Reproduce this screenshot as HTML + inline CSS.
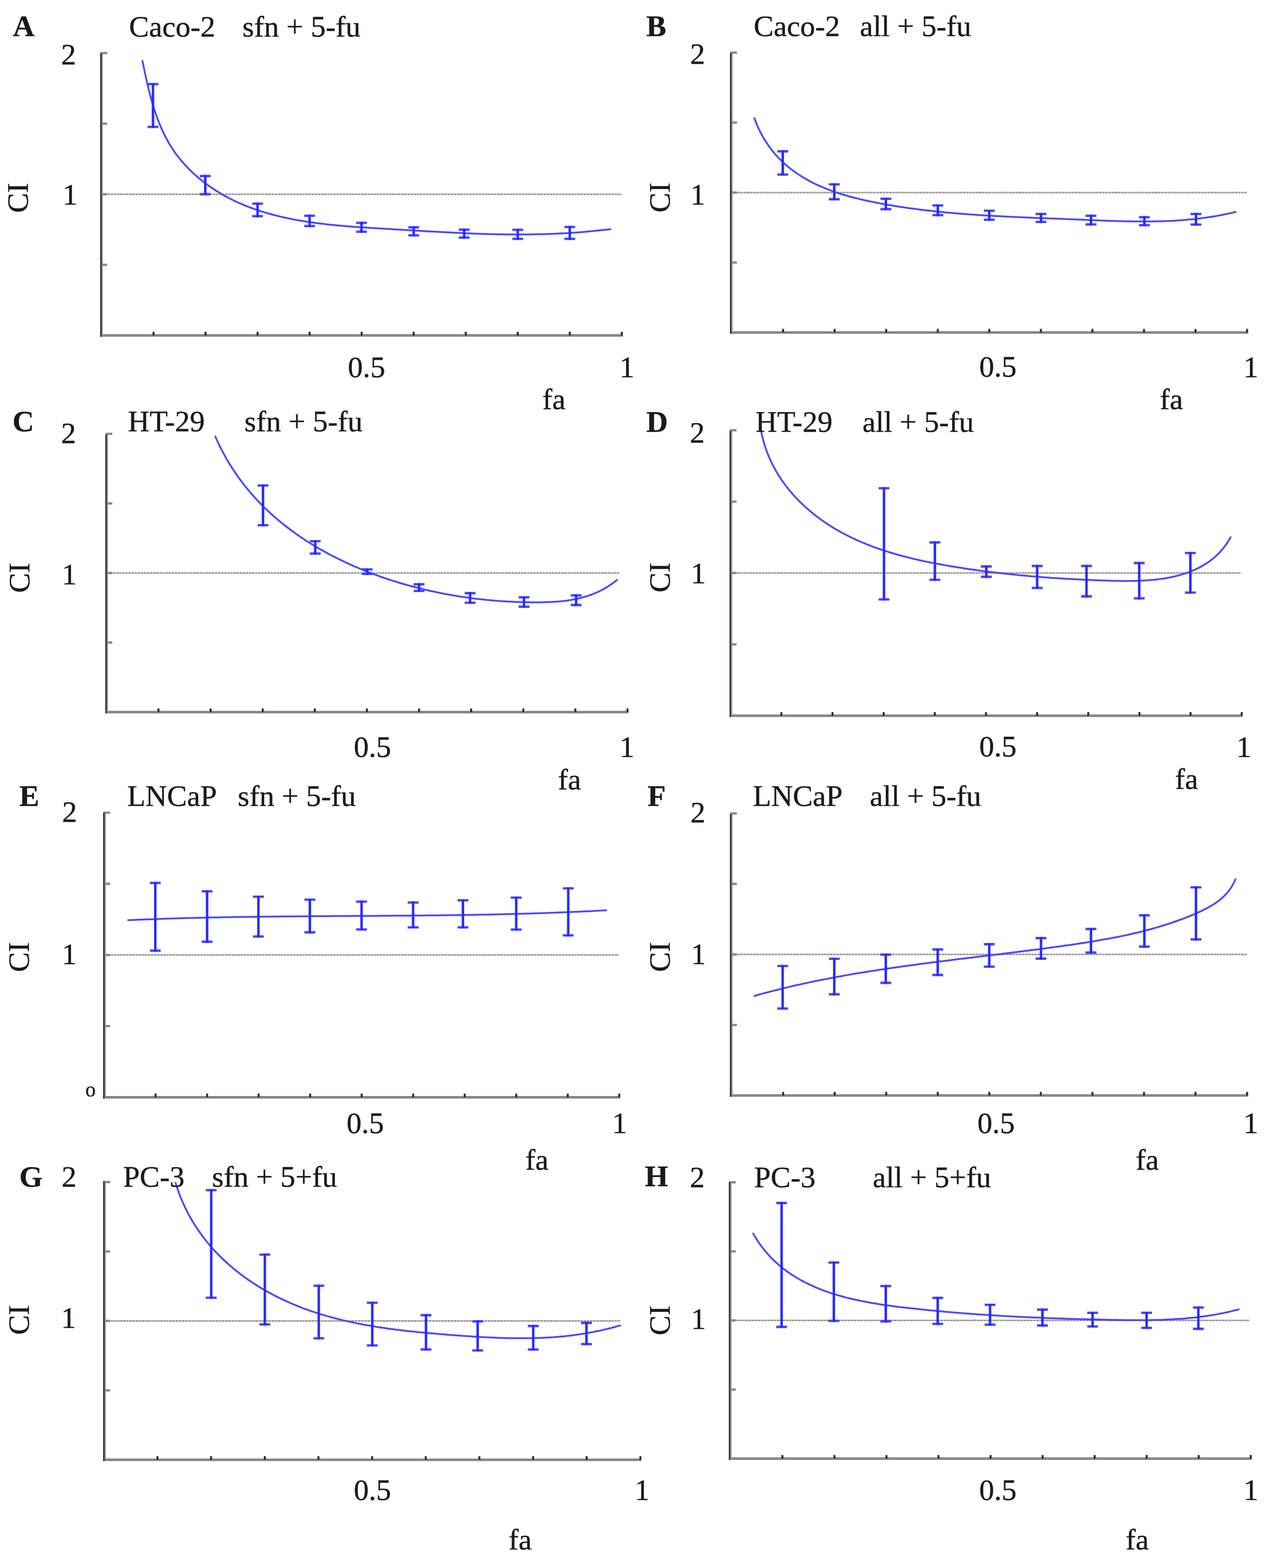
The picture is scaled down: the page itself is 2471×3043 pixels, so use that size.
<!DOCTYPE html>
<html><head><meta charset="utf-8"><title>CI plots</title>
<style>
html,body{margin:0;padding:0;background:#fff;}
svg{display:block;}
.t{font-family:"Liberation Serif","Times New Roman",serif;font-size:58px;fill:#1a1a1a;stroke:#1a1a1a;stroke-width:0.45px;}
.b{font-weight:bold;}
.ya{stroke:#2e2e2e;stroke-width:2.8;}
.ya2{stroke:#929292;stroke-width:2.6;}
.xa{stroke:#868686;stroke-width:5;}
.ytk{stroke:#8a8a8a;stroke-width:4.5;}
.xtk{stroke:#2a2a2a;stroke-width:3.8;}
.dot{stroke:#969696;stroke-width:3;stroke-dasharray:5 1;}
.cv{fill:none;stroke:#4848ff;stroke-width:3.5;stroke-linecap:round;stroke-linejoin:round;}
.eb{fill:none;stroke:#2a2aff;stroke-width:4.8;}
.ebc{fill:none;stroke:#4444ff;stroke-width:4.6;}
</style></head>
<body>
<svg width="2471" height="3043" viewBox="0 0 2471 3043">
<rect width="2471" height="3043" fill="#fff"/>
<g id="pA">
<line class="dot" x1="197" y1="377" x2="1207" y2="377"/>
<line class="ytk" x1="195" y1="103" x2="208" y2="103"/>
<line class="ytk" x1="195" y1="240" x2="208" y2="240"/>
<line class="ytk" x1="195" y1="377" x2="208" y2="377"/>
<line class="ytk" x1="195" y1="514" x2="208" y2="514"/>
<line class="xa" x1="194.5" y1="651" x2="1209" y2="651"/>
<line class="ya2" x1="198.3" y1="103" x2="198.3" y2="653.5"/>
<line class="ya" x1="195.8" y1="103" x2="195.8" y2="653.5"/>
<line class="xtk" x1="298" y1="651" x2="298" y2="644"/>
<line class="xtk" x1="399" y1="651" x2="399" y2="644"/>
<line class="xtk" x1="500" y1="651" x2="500" y2="644"/>
<line class="xtk" x1="601" y1="651" x2="601" y2="644"/>
<line class="xtk" x1="702" y1="651" x2="702" y2="644"/>
<line class="xtk" x1="803" y1="651" x2="803" y2="644"/>
<line class="xtk" x1="904" y1="651" x2="904" y2="644"/>
<line class="xtk" x1="1005" y1="651" x2="1005" y2="644"/>
<line class="xtk" x1="1106" y1="651" x2="1106" y2="644"/>
<line class="xtk" x1="1207" y1="651" x2="1207" y2="644"/>
<path class="cv" d="M276.6,118.3 277.6,122.9 278.5,127.6 279.5,132.3 280.4,137 281.4,141.8 282.4,146.5 283.5,151.3 284.5,156.1 285.6,160.9 286.7,165.7 287.9,170.5 289.1,175.4 290.3,180.2 291.5,185 292.8,189.8 294.2,194.6 295.6,199.4 297,204.2 298.5,209 300,213.8 301.6,218.5 303.2,223.2 304.9,227.9 306.6,232.6 308.4,237.2 310.3,241.9 312.2,246.4 314.2,251 316.3,255.5 318.4,259.9 320.6,264.4 322.9,268.7 325.3,273.1 327.7,277.3 330.2,281.6 332.8,285.7 335.5,289.8 338.2,293.9 341,297.9 344,301.8 346.9,305.7 350,309.5 353.1,313.2 356.3,316.9 359.6,320.5 363,324.1 366.4,327.6 369.8,331 373.4,334.4 376.9,337.7 380.6,341 384.3,344.2 388,347.3 391.8,350.4 395.7,353.4 399.6,356.4 403.5,359.3 407.5,362.1 411.5,364.8 415.6,367.5 419.7,370.2 423.8,372.8 428,375.3 432.1,377.7 436.4,380.1 440.6,382.4 444.9,384.7 449.2,386.8 453.5,389 457.9,391.1 462.3,393.1 466.7,395 471.1,396.9 475.6,398.8 480.1,400.6 484.6,402.3 489.1,404 493.7,405.7 498.3,407.2 502.8,408.8 507.5,410.3 512.1,411.7 516.8,413.1 521.4,414.5 526.1,415.8 530.8,417 535.6,418.3 540.3,419.4 545.1,420.6 549.9,421.7 554.7,422.7 559.5,423.8 564.3,424.7 569.1,425.7 574,426.6 578.9,427.5 583.7,428.3 588.6,429.1 593.5,429.9 598.4,430.7 603.3,431.4 608.3,432.1 613.2,432.8 618.2,433.4 623.1,434 628.1,434.6 633,435.2 638,435.7 643,436.3 648,436.8 653,437.3 658,437.7 663,438.2 668,438.6 673,439 678,439.4 683,439.8 688,440.2 693,440.5 698,440.9 703,441.2 708,441.6 713,441.9 718,442.2 723,442.5 728,442.8 733,443.1 738,443.4 743,443.7 748,444 752.9,444.3 757.9,444.6 762.9,444.9 767.8,445.2 772.8,445.5 777.7,445.8 782.6,446.1 787.6,446.4 792.5,446.7 797.4,446.9 802.3,447.2 807.2,447.5 812.1,447.8 817,448.1 821.9,448.4 826.8,448.7 831.7,449 836.5,449.2 841.4,449.5 846.3,449.8 851.1,450.1 856,450.3 860.9,450.6 865.7,450.8 870.6,451.1 875.4,451.3 880.3,451.6 885.1,451.8 890,452 894.8,452.3 899.7,452.5 904.5,452.7 909.3,452.9 914.2,453.1 919,453.3 923.9,453.5 928.7,453.6 933.5,453.8 938.4,453.9 943.2,454.1 948,454.2 952.9,454.4 957.7,454.5 962.6,454.6 967.4,454.7 972.3,454.8 977.1,454.8 981.9,454.9 986.8,455 991.7,455 996.5,455 1001.4,455.1 1006.2,455.1 1011.1,455.1 1016,455 1020.8,455 1025.7,455 1030.6,454.9 1035.5,454.8 1040.4,454.7 1045.2,454.6 1050.1,454.5 1055,454.4 1060,454.2 1064.9,454.1 1069.8,453.9 1074.7,453.7 1079.6,453.5 1084.6,453.3 1089.5,453 1094.5,452.7 1099.4,452.5 1104.4,452.2 1109.3,451.8 1114.3,451.5 1119.3,451.2 1124.3,450.8 1129.3,450.4 1134.3,450 1139.3,449.5 1144.3,449.1 1149.4,448.6 1154.4,448.1 1159.5,447.6 1164.5,447.1 1169.6,446.5 1174.7,446 1179.8,445.4 1184.9,444.7"/>
<path class="ebc" d="M286.5,163.3h21M286.5,246.2h21"/>
<path class="eb" d="M297,161.3V248.2"/>
<path class="ebc" d="M388,341.6h21M388,376.9h21"/>
<path class="eb" d="M398.5,339.6V378.9"/>
<path class="ebc" d="M489.5,395.3h21M489.5,419.5h21"/>
<path class="eb" d="M500,393.3V421.5"/>
<path class="ebc" d="M590.5,418.7h21M590.5,438.8h21"/>
<path class="eb" d="M601,416.7V440.8"/>
<path class="ebc" d="M691.2,432.5h21M691.2,449.8h21"/>
<path class="eb" d="M701.7,430.5V451.8"/>
<path class="ebc" d="M792.6,441.1h21M792.6,456.7h21"/>
<path class="eb" d="M803.1,439.1V458.7"/>
<path class="ebc" d="M890.5,445.7h21M890.5,461.1h21"/>
<path class="eb" d="M901,443.7V463.1"/>
<path class="ebc" d="M994.5,446h21M994.5,463.5h21"/>
<path class="eb" d="M1005,444V465.5"/>
<path class="ebc" d="M1095.5,440.5h21M1095.5,463.5h21"/>
<path class="eb" d="M1106,438.5V465.5"/>
<text class="t b" x="25.1" y="70">A</text>
<text class="t" x="250.6" y="70.5">Caco-2</text>
<text class="t" x="470.6" y="70.5">sfn + 5-fu</text>
<text class="t" x="118.5" y="124.5">2</text>
<text class="t" x="121.6" y="396.8">1</text>
<text class="t" x="675.3" y="732">0.5</text>
<text class="t" x="1202.4" y="732.3">1</text>
<text class="t" x="1052.7" y="793.5">fa</text>
<text class="t" transform="translate(54,413) rotate(-90)">CI</text>
</g>
<g id="pB">
<line class="dot" x1="1419.5" y1="373.7" x2="2420" y2="373.7"/>
<line class="ytk" x1="1417.5" y1="102.1" x2="1430.5" y2="102.1"/>
<line class="ytk" x1="1417.5" y1="237.9" x2="1430.5" y2="237.9"/>
<line class="ytk" x1="1417.5" y1="373.7" x2="1430.5" y2="373.7"/>
<line class="ytk" x1="1417.5" y1="509.5" x2="1430.5" y2="509.5"/>
<line class="xa" x1="1417" y1="645.3" x2="2422.8" y2="645.3"/>
<line class="ya2" x1="1420.8" y1="102.8" x2="1420.8" y2="647.8"/>
<line class="ya" x1="1418.3" y1="102.8" x2="1418.3" y2="647.8"/>
<line class="xtk" x1="1520.1" y1="645.3" x2="1520.1" y2="638.3"/>
<line class="xtk" x1="1620.1" y1="645.3" x2="1620.1" y2="638.3"/>
<line class="xtk" x1="1720.2" y1="645.3" x2="1720.2" y2="638.3"/>
<line class="xtk" x1="1820.3" y1="645.3" x2="1820.3" y2="638.3"/>
<line class="xtk" x1="1920.3" y1="645.3" x2="1920.3" y2="638.3"/>
<line class="xtk" x1="2020.4" y1="645.3" x2="2020.4" y2="638.3"/>
<line class="xtk" x1="2120.5" y1="645.3" x2="2120.5" y2="638.3"/>
<line class="xtk" x1="2220.6" y1="645.3" x2="2220.6" y2="638.3"/>
<line class="xtk" x1="2320.6" y1="645.3" x2="2320.6" y2="638.3"/>
<line class="xtk" x1="2420.7" y1="645.3" x2="2420.7" y2="638.3"/>
<path class="cv" d="M1464.2,229.3 1466.1,234.2 1468,239 1469.9,243.7 1472,248.2 1474.1,252.7 1476.3,257.1 1478.6,261.4 1480.9,265.6 1483.4,269.8 1485.8,273.8 1488.4,277.7 1491,281.6 1493.7,285.4 1496.4,289.1 1499.3,292.7 1502.1,296.2 1505.1,299.6 1508.1,303 1511.1,306.3 1514.2,309.5 1517.4,312.6 1520.6,315.6 1523.9,318.6 1527.2,321.5 1530.6,324.4 1534.1,327.1 1537.6,329.8 1541.1,332.4 1544.7,335 1548.3,337.5 1552,339.9 1555.7,342.3 1559.5,344.6 1563.3,346.8 1567.1,349 1571,351.1 1574.9,353.2 1578.9,355.2 1582.9,357.2 1586.9,359.1 1591,360.9 1595.1,362.7 1599.2,364.4 1603.4,366.1 1607.6,367.8 1611.8,369.4 1616.1,370.9 1620.3,372.4 1624.6,373.9 1629,375.3 1633.3,376.7 1637.7,378 1642.1,379.3 1646.5,380.6 1650.9,381.8 1655.4,383 1659.8,384.2 1664.3,385.3 1668.8,386.4 1673.3,387.5 1677.8,388.5 1682.3,389.5 1686.9,390.5 1691.4,391.4 1696,392.3 1700.5,393.2 1705.1,394.1 1709.6,395 1714.2,395.8 1718.8,396.6 1723.3,397.4 1727.9,398.2 1732.5,399 1737,399.7 1741.6,400.5 1746.2,401.2 1750.8,401.9 1755.3,402.6 1759.9,403.2 1764.5,403.9 1769,404.5 1773.6,405.1 1778.2,405.7 1782.8,406.3 1787.3,406.9 1791.9,407.5 1796.5,408 1801.1,408.6 1805.6,409.1 1810.2,409.6 1814.8,410.1 1819.3,410.6 1823.9,411 1828.5,411.5 1833.1,411.9 1837.6,412.4 1842.2,412.8 1846.8,413.2 1851.4,413.6 1855.9,414 1860.5,414.4 1865.1,414.8 1869.7,415.1 1874.2,415.5 1878.8,415.8 1883.4,416.2 1888,416.5 1892.5,416.8 1897.1,417.1 1901.7,417.4 1906.3,417.7 1910.8,418 1915.4,418.3 1920,418.5 1924.6,418.8 1929.1,419.1 1933.7,419.3 1938.3,419.5 1942.9,419.8 1947.4,420 1952,420.3 1956.6,420.5 1961.2,420.7 1965.7,420.9 1970.3,421.1 1974.9,421.3 1979.5,421.5 1984,421.7 1988.6,421.9 1993.2,422.1 1997.8,422.3 2002.3,422.5 2006.9,422.7 2011.5,422.9 2016.1,423 2020.6,423.2 2025.2,423.4 2029.8,423.6 2034.4,423.8 2038.9,423.9 2043.5,424.1 2048.1,424.3 2052.6,424.5 2057.2,424.6 2061.8,424.8 2066.4,425 2070.9,425.2 2075.5,425.4 2080.1,425.5 2084.6,425.7 2089.2,425.9 2093.8,426.1 2098.3,426.3 2102.9,426.5 2107.5,426.7 2112,426.9 2116.6,427.1 2121.2,427.3 2125.8,427.5 2130.3,427.6 2134.9,427.8 2139.4,428 2144,428.2 2148.6,428.4 2153.1,428.5 2157.7,428.7 2162.3,428.8 2166.8,429 2171.4,429.1 2176,429.2 2180.5,429.3 2185.1,429.4 2189.6,429.5 2194.2,429.6 2198.8,429.7 2203.3,429.7 2207.9,429.8 2212.4,429.8 2217,429.8 2221.5,429.8 2226.1,429.8 2230.6,429.8 2235.2,429.7 2239.7,429.7 2244.3,429.6 2248.8,429.5 2253.4,429.4 2257.9,429.2 2262.5,429 2267,428.9 2271.6,428.7 2276.1,428.4 2280.7,428.2 2285.2,427.9 2289.8,427.6 2294.3,427.3 2298.8,426.9 2303.4,426.5 2307.9,426.1 2312.5,425.7 2317,425.2 2321.5,424.7 2326.1,424.2 2330.6,423.7 2335.1,423.1 2339.7,422.5 2344.2,421.8 2348.7,421.1 2353.2,420.4 2357.8,419.7 2362.3,418.9 2366.8,418.1 2371.3,417.2 2375.9,416.3 2380.4,415.4 2384.9,414.5 2389.4,413.5 2393.9,412.4 2398.4,411.3"/>
<path class="ebc" d="M1508.9,293.6h21M1508.9,338.8h21"/>
<path class="eb" d="M1519.4,291.6V340.8"/>
<path class="ebc" d="M1608.9,357.8h21M1608.9,386.6h21"/>
<path class="eb" d="M1619.4,355.8V388.6"/>
<path class="ebc" d="M1709.1,385.8h21M1709.1,405.9h21"/>
<path class="eb" d="M1719.6,383.8V407.9"/>
<path class="ebc" d="M1809.9,398.7h21M1809.9,417.5h21"/>
<path class="eb" d="M1820.4,396.7V419.5"/>
<path class="ebc" d="M1909.7,409h21M1909.7,426.5h21"/>
<path class="eb" d="M1920.2,407V428.5"/>
<path class="ebc" d="M2010.2,415.3h21M2010.2,430.8h21"/>
<path class="eb" d="M2020.7,413.3V432.8"/>
<path class="ebc" d="M2107.2,418.7h21M2107.2,435.5h21"/>
<path class="eb" d="M2117.7,416.7V437.5"/>
<path class="ebc" d="M2210.8,421.5h21M2210.8,437h21"/>
<path class="eb" d="M2221.3,419.5V439"/>
<path class="ebc" d="M2311,415.3h21M2311,435.8h21"/>
<path class="eb" d="M2321.5,413.3V437.8"/>
<text class="t b" x="1254.6" y="69.5">B</text>
<text class="t" x="1463.1" y="69.5">Caco-2</text>
<text class="t" x="1669" y="69.5">all + 5-fu</text>
<text class="t" x="1339.5" y="124.3">2</text>
<text class="t" x="1339.9" y="397">1</text>
<text class="t" x="1900.8" y="731">0.5</text>
<text class="t" x="2413.4" y="732">1</text>
<text class="t" x="2251.2" y="793.5">fa</text>
<text class="t" transform="translate(1300,412.4) rotate(-90)">CI</text>
</g>
<g id="pC">
<line class="dot" x1="207" y1="1112" x2="1202.6" y2="1112"/>
<line class="ytk" x1="205" y1="842" x2="218" y2="842"/>
<line class="ytk" x1="205" y1="977" x2="218" y2="977"/>
<line class="ytk" x1="205" y1="1112" x2="218" y2="1112"/>
<line class="ytk" x1="205" y1="1247" x2="218" y2="1247"/>
<line class="xa" x1="204.5" y1="1382" x2="1220" y2="1382"/>
<line class="ya2" x1="208.3" y1="843" x2="208.3" y2="1384.5"/>
<line class="ya" x1="205.8" y1="843" x2="205.8" y2="1384.5"/>
<line class="xtk" x1="307.6" y1="1382" x2="307.6" y2="1375"/>
<line class="xtk" x1="408.8" y1="1382" x2="408.8" y2="1375"/>
<line class="xtk" x1="509.9" y1="1382" x2="509.9" y2="1375"/>
<line class="xtk" x1="611.1" y1="1382" x2="611.1" y2="1375"/>
<line class="xtk" x1="712.2" y1="1382" x2="712.2" y2="1375"/>
<line class="xtk" x1="813.4" y1="1382" x2="813.4" y2="1375"/>
<line class="xtk" x1="914.5" y1="1382" x2="914.5" y2="1375"/>
<line class="xtk" x1="1015.7" y1="1382" x2="1015.7" y2="1375"/>
<line class="xtk" x1="1116.8" y1="1382" x2="1116.8" y2="1375"/>
<line class="xtk" x1="1218" y1="1382" x2="1218" y2="1375"/>
<path class="cv" d="M418,847.1 419.7,851.1 421.5,855.1 423.3,859 425.2,862.9 427.1,866.8 429,870.7 431,874.5 433,878.3 435,882 437.1,885.8 439.2,889.5 441.3,893.1 443.4,896.8 445.6,900.4 447.9,904 450.1,907.5 452.4,911.1 454.7,914.6 457,918 459.4,921.5 461.8,924.9 464.2,928.3 466.7,931.6 469.2,934.9 471.7,938.2 474.2,941.5 476.8,944.7 479.4,948 482.1,951.1 484.7,954.3 487.4,957.4 490.1,960.5 492.8,963.6 495.6,966.7 498.4,969.7 501.2,972.7 504,975.6 506.9,978.6 509.8,981.5 512.7,984.4 515.6,987.2 518.6,990.1 521.6,992.9 524.6,995.7 527.6,998.4 530.7,1001.1 533.7,1003.8 536.8,1006.5 539.9,1009.2 543.1,1011.8 546.3,1014.4 549.4,1017 552.6,1019.5 555.9,1022 559.1,1024.5 562.4,1027 565.7,1029.5 569,1031.9 572.3,1034.3 575.6,1036.7 579,1039 582.4,1041.4 585.8,1043.7 589.2,1045.9 592.6,1048.2 596.1,1050.4 599.5,1052.6 603,1054.8 606.5,1057 610,1059.1 613.6,1061.2 617.1,1063.3 620.7,1065.4 624.3,1067.4 627.9,1069.4 631.5,1071.4 635.1,1073.4 638.7,1075.4 642.4,1077.3 646.1,1079.2 649.7,1081.1 653.4,1083 657.1,1084.8 660.8,1086.6 664.6,1088.4 668.3,1090.2 672.1,1092 675.8,1093.7 679.6,1095.4 683.4,1097.1 687.2,1098.8 691,1100.4 694.8,1102 698.6,1103.6 702.5,1105.2 706.3,1106.8 710.2,1108.3 714,1109.9 717.9,1111.4 721.8,1112.8 725.7,1114.3 729.6,1115.7 733.5,1117.2 737.4,1118.6 741.3,1120 745.2,1121.3 749.2,1122.7 753.1,1124 757,1125.3 761,1126.6 765,1127.8 768.9,1129.1 772.9,1130.3 776.9,1131.5 780.9,1132.7 784.9,1133.8 788.9,1135 792.9,1136.1 796.9,1137.2 800.9,1138.3 804.9,1139.3 809,1140.4 813,1141.4 817,1142.4 821.1,1143.4 825.1,1144.4 829.2,1145.3 833.2,1146.3 837.3,1147.2 841.4,1148 845.5,1148.9 849.5,1149.8 853.6,1150.6 857.7,1151.4 861.8,1152.2 865.9,1153 870,1153.7 874.1,1154.5 878.2,1155.2 882.3,1155.9 886.4,1156.6 890.5,1157.2 894.6,1157.9 898.8,1158.5 902.9,1159.1 907,1159.7 911.1,1160.3 915.3,1160.8 919.4,1161.4 923.5,1161.9 927.7,1162.4 931.8,1162.8 935.9,1163.3 940.1,1163.7 944.2,1164.2 948.4,1164.6 952.5,1164.9 956.7,1165.3 960.8,1165.7 965,1166 969.1,1166.3 973.3,1166.6 977.4,1166.9 981.5,1167.1 985.7,1167.4 989.8,1167.6 994,1167.8 998.1,1168 1002.3,1168.2 1006.4,1168.3 1010.6,1168.4 1014.7,1168.6 1018.9,1168.7 1023,1168.7 1027.2,1168.8 1031.3,1168.9 1035.5,1168.9 1039.6,1168.9 1043.7,1168.9 1047.9,1168.9 1052,1168.8 1056.1,1168.7 1060.3,1168.6 1064.4,1168.5 1068.5,1168.3 1072.6,1168.1 1076.7,1167.8 1080.7,1167.5 1084.8,1167.2 1088.9,1166.8 1092.9,1166.4 1096.9,1165.9 1101,1165.4 1105,1164.8 1109,1164.2 1112.9,1163.5 1116.9,1162.7 1120.8,1161.9 1124.7,1161 1128.6,1160 1132.5,1158.9 1136.4,1157.8 1140.2,1156.6 1144,1155.4 1147.8,1154 1151.5,1152.6 1155.3,1151.1 1159,1149.5 1162.7,1147.8 1166.3,1146 1169.9,1144.1 1173.5,1142.1 1177.1,1140 1180.6,1137.8 1184.1,1135.5 1187.6,1133.1 1191,1130.6 1194.4,1128 1197.8,1125.3"/>
<path class="ebc" d="M500,942.3h21M500,1019.2h21"/>
<path class="eb" d="M510.5,940.3V1021.2"/>
<path class="ebc" d="M601.4,1050.3h21M601.4,1074.2h21"/>
<path class="eb" d="M611.9,1048.3V1076.2"/>
<path class="ebc" d="M702.2,1105h21M702.2,1113.7h21"/>
<path class="eb" d="M712.7,1103V1115.7"/>
<path class="ebc" d="M803,1133.9h21M803,1146.8h21"/>
<path class="eb" d="M813.5,1131.9V1148.8"/>
<path class="ebc" d="M902,1151.1h21M902,1169.8h21"/>
<path class="eb" d="M912.5,1149.1V1171.8"/>
<path class="ebc" d="M1006.7,1159.2h21M1006.7,1177.4h21"/>
<path class="eb" d="M1017.2,1157.2V1179.4"/>
<path class="ebc" d="M1107.8,1155.5h21M1107.8,1174.1h21"/>
<path class="eb" d="M1118.3,1153.5V1176.1"/>
<text class="t b" x="24.2" y="837">C</text>
<text class="t" x="248.3" y="837">HT-29</text>
<text class="t" x="474.6" y="837">sfn + 5-fu</text>
<text class="t" x="118.5" y="860">2</text>
<text class="t" x="119.9" y="1133.6">1</text>
<text class="t" x="686.8" y="1468.5">0.5</text>
<text class="t" x="1202.4" y="1468.5">1</text>
<text class="t" x="1083" y="1531.5">fa</text>
<text class="t" transform="translate(57,1150.4) rotate(-90)">CI</text>
</g>
<g id="pD">
<line class="dot" x1="1418.7" y1="1112" x2="2409" y2="1112"/>
<line class="ytk" x1="1416.7" y1="835" x2="1429.7" y2="835"/>
<line class="ytk" x1="1416.7" y1="973.5" x2="1429.7" y2="973.5"/>
<line class="ytk" x1="1416.7" y1="1112" x2="1429.7" y2="1112"/>
<line class="ytk" x1="1416.7" y1="1250.5" x2="1429.7" y2="1250.5"/>
<line class="xa" x1="1416.2" y1="1389" x2="2412" y2="1389"/>
<line class="ya2" x1="1420" y1="836" x2="1420" y2="1391.5"/>
<line class="ya" x1="1417.5" y1="836" x2="1417.5" y2="1391.5"/>
<line class="xtk" x1="1516.6" y1="1389" x2="1516.6" y2="1382"/>
<line class="xtk" x1="1615.9" y1="1389" x2="1615.9" y2="1382"/>
<line class="xtk" x1="1715.2" y1="1389" x2="1715.2" y2="1382"/>
<line class="xtk" x1="1814.5" y1="1389" x2="1814.5" y2="1382"/>
<line class="xtk" x1="1913.8" y1="1389" x2="1913.8" y2="1382"/>
<line class="xtk" x1="2013.1" y1="1389" x2="2013.1" y2="1382"/>
<line class="xtk" x1="2112.4" y1="1389" x2="2112.4" y2="1382"/>
<line class="xtk" x1="2211.7" y1="1389" x2="2211.7" y2="1382"/>
<line class="xtk" x1="2311" y1="1389" x2="2311" y2="1382"/>
<line class="xtk" x1="2410.3" y1="1389" x2="2410.3" y2="1382"/>
<path class="cv" d="M1477.4,836.1 1478.3,841.1 1479.4,846 1480.6,850.8 1481.8,855.6 1483.2,860.4 1484.6,865.1 1486.2,869.8 1487.8,874.4 1489.5,879 1491.3,883.5 1493.2,888 1495.2,892.4 1497.2,896.8 1499.4,901.2 1501.6,905.5 1503.9,909.7 1506.2,913.9 1508.7,918.1 1511.2,922.2 1513.8,926.2 1516.4,930.2 1519.2,934.2 1522,938.1 1524.8,942 1527.8,945.8 1530.7,949.5 1533.8,953.2 1536.9,956.9 1540.1,960.5 1543.3,964.1 1546.6,967.6 1549.9,971 1553.3,974.4 1556.8,977.8 1560.2,981.1 1563.8,984.3 1567.4,987.5 1571,990.7 1574.7,993.8 1578.4,996.8 1582.1,999.8 1585.9,1002.7 1589.8,1005.6 1593.6,1008.4 1597.6,1011.2 1601.5,1013.9 1605.5,1016.5 1609.5,1019.2 1613.5,1021.7 1617.6,1024.2 1621.7,1026.7 1625.8,1029.1 1630,1031.4 1634.1,1033.7 1638.4,1036 1642.6,1038.2 1646.9,1040.4 1651.2,1042.5 1655.5,1044.5 1659.8,1046.6 1664.2,1048.6 1668.6,1050.5 1673,1052.4 1677.4,1054.2 1681.9,1056.1 1686.4,1057.8 1690.9,1059.6 1695.4,1061.3 1699.9,1062.9 1704.5,1064.5 1709.1,1066.1 1713.7,1067.7 1718.3,1069.2 1722.9,1070.7 1727.5,1072.1 1732.2,1073.5 1736.8,1074.9 1741.5,1076.2 1746.2,1077.5 1750.9,1078.8 1755.6,1080.1 1760.3,1081.3 1765.1,1082.5 1769.8,1083.6 1774.5,1084.8 1779.3,1085.9 1784.1,1087 1788.8,1088 1793.6,1089.1 1798.4,1090.1 1803.2,1091 1808,1092 1812.7,1093 1817.5,1093.9 1822.3,1094.8 1827.1,1095.6 1831.9,1096.5 1836.7,1097.4 1841.5,1098.2 1846.3,1099 1851.1,1099.8 1855.9,1100.5 1860.7,1101.3 1865.5,1102 1870.2,1102.8 1875,1103.5 1879.8,1104.2 1884.5,1104.9 1889.3,1105.6 1894,1106.2 1898.8,1106.9 1903.5,1107.5 1908.2,1108.2 1913,1108.8 1917.7,1109.4 1922.4,1110 1927.2,1110.6 1931.9,1111.1 1936.6,1111.7 1941.3,1112.2 1946.1,1112.8 1950.8,1113.3 1955.5,1113.8 1960.2,1114.3 1964.9,1114.8 1969.7,1115.3 1974.4,1115.8 1979.1,1116.2 1983.8,1116.7 1988.5,1117.1 1993.3,1117.6 1998,1118 2002.7,1118.4 2007.5,1118.8 2012.2,1119.2 2017,1119.6 2021.7,1119.9 2026.5,1120.3 2031.2,1120.7 2036,1121 2040.7,1121.4 2045.5,1121.7 2050.3,1122 2055.1,1122.3 2059.9,1122.6 2064.7,1122.9 2069.5,1123.2 2074.3,1123.5 2079.1,1123.8 2084,1124 2088.8,1124.3 2093.6,1124.5 2098.5,1124.8 2103.4,1125 2108.3,1125.2 2113.1,1125.4 2118,1125.6 2123,1125.9 2127.9,1126 2132.8,1126.2 2137.8,1126.4 2142.7,1126.6 2147.7,1126.8 2152.7,1126.9 2157.6,1127.1 2162.6,1127.2 2167.6,1127.3 2172.6,1127.4 2177.6,1127.5 2182.6,1127.5 2187.6,1127.5 2192.6,1127.5 2197.6,1127.4 2202.5,1127.3 2207.5,1127.2 2212.4,1127 2217.4,1126.8 2222.3,1126.5 2227.2,1126.2 2232.1,1125.8 2237,1125.4 2241.8,1124.9 2246.6,1124.4 2251.4,1123.8 2256.2,1123.1 2261,1122.4 2265.7,1121.6 2270.4,1120.7 2275,1119.7 2279.6,1118.7 2284.2,1117.6 2288.8,1116.4 2293.3,1115.1 2297.7,1113.8 2302.1,1112.3 2306.5,1110.8 2310.8,1109.2 2315.1,1107.4 2319.3,1105.6 2323.5,1103.6 2327.6,1101.6 2331.7,1099.4 2335.7,1097.2 2339.6,1094.8 2343.5,1092.3 2347.3,1089.7 2351,1086.9 2354.6,1084 2358.2,1081 2361.6,1077.8 2365,1074.5 2368.3,1071.1 2371.5,1067.5 2374.6,1063.7 2377.7,1059.8 2380.6,1055.8 2383.4,1051.5 2386.1,1047.1 2388.7,1042.6"/>
<path class="ebc" d="M1705.4,947.5h21M1705.4,1163.2h21"/>
<path class="eb" d="M1715.9,945.5V1165.2"/>
<path class="ebc" d="M1804.2,1052.6h21M1804.2,1125.2h21"/>
<path class="eb" d="M1814.7,1050.6V1127.2"/>
<path class="ebc" d="M1904,1099.4h21M1904,1119.4h21"/>
<path class="eb" d="M1914.5,1097.4V1121.4"/>
<path class="ebc" d="M2002.7,1098.4h21M2002.7,1141h21"/>
<path class="eb" d="M2013.2,1096.4V1143"/>
<path class="ebc" d="M2098.5,1098.4h21M2098.5,1157.4h21"/>
<path class="eb" d="M2109,1096.4V1159.4"/>
<path class="ebc" d="M2200.8,1092.6h21M2200.8,1161.3h21"/>
<path class="eb" d="M2211.3,1090.6V1163.3"/>
<path class="ebc" d="M2300.1,1073.2h21M2300.1,1150h21"/>
<path class="eb" d="M2310.6,1071.2V1152"/>
<text class="t b" x="1254.6" y="837.5">D</text>
<text class="t" x="1466.6" y="837.5">HT-29</text>
<text class="t" x="1674" y="837.5">all + 5-fu</text>
<text class="t" x="1338.9" y="859.4">2</text>
<text class="t" x="1340.9" y="1132.4">1</text>
<text class="t" x="1900.8" y="1468">0.5</text>
<text class="t" x="2399.9" y="1468.5">1</text>
<text class="t" x="2280.7" y="1531">fa</text>
<text class="t" transform="translate(1300.3,1149.7) rotate(-90)">CI</text>
</g>
<g id="pE">
<line class="dot" x1="202.8" y1="1853.3" x2="1201" y2="1853.3"/>
<line class="ytk" x1="200.8" y1="1577.2" x2="213.8" y2="1577.2"/>
<line class="ytk" x1="200.8" y1="1715.2" x2="213.8" y2="1715.2"/>
<line class="ytk" x1="200.8" y1="1853.3" x2="213.8" y2="1853.3"/>
<line class="ytk" x1="200.8" y1="1991.3" x2="213.8" y2="1991.3"/>
<line class="xa" x1="200.3" y1="2129.4" x2="1204" y2="2129.4"/>
<line class="ya2" x1="204.1" y1="1577" x2="204.1" y2="2131.9"/>
<line class="ya" x1="201.6" y1="1577" x2="201.6" y2="2131.9"/>
<line class="xtk" x1="302" y1="2129.4" x2="302" y2="2122.4"/>
<line class="xtk" x1="402" y1="2129.4" x2="402" y2="2122.4"/>
<line class="xtk" x1="502" y1="2129.4" x2="502" y2="2122.4"/>
<line class="xtk" x1="602" y1="2129.4" x2="602" y2="2122.4"/>
<line class="xtk" x1="702" y1="2129.4" x2="702" y2="2122.4"/>
<line class="xtk" x1="802" y1="2129.4" x2="802" y2="2122.4"/>
<line class="xtk" x1="902" y1="2129.4" x2="902" y2="2122.4"/>
<line class="xtk" x1="1002" y1="2129.4" x2="1002" y2="2122.4"/>
<line class="xtk" x1="1102" y1="2129.4" x2="1102" y2="2122.4"/>
<line class="xtk" x1="1202" y1="2129.4" x2="1202" y2="2122.4"/>
<path class="cv" d="M248.7,1785.7 252.9,1785.6 257.2,1785.4 261.4,1785.2 265.6,1785 269.9,1784.8 274.1,1784.7 278.3,1784.5 282.6,1784.3 286.8,1784.2 291.1,1784 295.3,1783.9 299.5,1783.7 303.8,1783.6 308,1783.4 312.2,1783.3 316.5,1783.1 320.7,1783 324.9,1782.8 329.2,1782.7 333.4,1782.6 337.6,1782.4 341.9,1782.3 346.1,1782.2 350.3,1782.1 354.6,1782 358.8,1781.8 363,1781.7 367.3,1781.6 371.5,1781.5 375.8,1781.4 380,1781.3 384.2,1781.2 388.5,1781.1 392.7,1781 396.9,1780.9 401.2,1780.8 405.4,1780.7 409.6,1780.6 413.9,1780.5 418.1,1780.4 422.4,1780.4 426.6,1780.3 430.8,1780.2 435.1,1780.1 439.3,1780 443.5,1780 447.8,1779.9 452,1779.8 456.2,1779.7 460.5,1779.7 464.7,1779.6 469,1779.5 473.2,1779.5 477.4,1779.4 481.7,1779.4 485.9,1779.3 490.1,1779.2 494.4,1779.2 498.6,1779.1 502.9,1779.1 507.1,1779 511.3,1779 515.6,1778.9 519.8,1778.9 524,1778.8 528.3,1778.8 532.5,1778.7 536.8,1778.7 541,1778.7 545.2,1778.6 549.5,1778.6 553.7,1778.5 557.9,1778.5 562.2,1778.5 566.4,1778.4 570.7,1778.4 574.9,1778.3 579.1,1778.3 583.4,1778.3 587.6,1778.2 591.8,1778.2 596.1,1778.2 600.3,1778.2 604.6,1778.1 608.8,1778.1 613,1778.1 617.3,1778 621.5,1778 625.8,1778 630,1778 634.2,1777.9 638.5,1777.9 642.7,1777.9 646.9,1777.8 651.2,1777.8 655.4,1777.8 659.7,1777.8 663.9,1777.7 668.1,1777.7 672.4,1777.7 676.6,1777.7 680.9,1777.7 685.1,1777.6 689.3,1777.6 693.6,1777.6 697.8,1777.6 702,1777.5 706.3,1777.5 710.5,1777.5 714.8,1777.5 719,1777.4 723.2,1777.4 727.5,1777.4 731.7,1777.4 735.9,1777.3 740.2,1777.3 744.4,1777.3 748.7,1777.2 752.9,1777.2 757.1,1777.2 761.4,1777.2 765.6,1777.1 769.8,1777.1 774.1,1777.1 778.3,1777 782.6,1777 786.8,1777 791,1776.9 795.3,1776.9 799.5,1776.9 803.8,1776.8 808,1776.8 812.2,1776.8 816.5,1776.7 820.7,1776.7 824.9,1776.6 829.2,1776.6 833.4,1776.5 837.7,1776.5 841.9,1776.5 846.1,1776.4 850.4,1776.4 854.6,1776.3 858.8,1776.3 863.1,1776.2 867.3,1776.2 871.5,1776.1 875.8,1776 880,1776 884.3,1775.9 888.5,1775.9 892.7,1775.8 897,1775.7 901.2,1775.7 905.4,1775.6 909.7,1775.5 913.9,1775.5 918.1,1775.4 922.4,1775.3 926.6,1775.3 930.9,1775.2 935.1,1775.1 939.3,1775 943.6,1774.9 947.8,1774.9 952,1774.8 956.3,1774.7 960.5,1774.6 964.7,1774.5 969,1774.4 973.2,1774.3 977.5,1774.2 981.7,1774.1 985.9,1774 990.2,1773.9 994.4,1773.8 998.6,1773.7 1002.9,1773.6 1007.1,1773.5 1011.3,1773.3 1015.6,1773.2 1019.8,1773.1 1024,1773 1028.3,1772.9 1032.5,1772.7 1036.7,1772.6 1041,1772.5 1045.2,1772.3 1049.4,1772.2 1053.7,1772 1057.9,1771.9 1062.1,1771.8 1066.4,1771.6 1070.6,1771.4 1074.8,1771.3 1079.1,1771.1 1083.3,1771 1087.5,1770.8 1091.8,1770.6 1096,1770.5 1100.2,1770.3 1104.5,1770.1 1108.7,1769.9 1112.9,1769.8 1117.2,1769.6 1121.4,1769.4 1125.6,1769.2 1129.9,1769 1134.1,1768.8 1138.3,1768.6 1142.6,1768.4 1146.8,1768.2 1151,1768 1155.3,1767.7 1159.5,1767.5 1163.7,1767.3 1167.9,1767.1 1172.2,1766.9 1176.4,1766.6"/>
<path class="ebc" d="M290.9,1713.5h21M290.9,1844.9h21"/>
<path class="eb" d="M301.4,1711.5V1846.9"/>
<path class="ebc" d="M391.5,1729.7h21M391.5,1827.6h21"/>
<path class="eb" d="M402,1727.7V1829.6"/>
<path class="ebc" d="M491.1,1740.3h21M491.1,1817.5h21"/>
<path class="eb" d="M501.6,1738.3V1819.5"/>
<path class="ebc" d="M591,1746h21M591,1809.4h21"/>
<path class="eb" d="M601.5,1744V1811.4"/>
<path class="ebc" d="M691.3,1749.8h21M691.3,1803.7h21"/>
<path class="eb" d="M701.8,1747.8V1805.7"/>
<path class="ebc" d="M791.4,1751.5h21M791.4,1799.8h21"/>
<path class="eb" d="M801.9,1749.5V1801.8"/>
<path class="ebc" d="M888.1,1747.3h21M888.1,1799.8h21"/>
<path class="eb" d="M898.6,1745.3V1801.8"/>
<path class="ebc" d="M991.5,1742h21M991.5,1804h21"/>
<path class="eb" d="M1002,1740V1806"/>
<path class="ebc" d="M1092.5,1724h21M1092.5,1815.3h21"/>
<path class="eb" d="M1103,1722V1817.3"/>
<text class="t b" x="37.5" y="1564.4">E</text>
<text class="t" x="246.9" y="1564.4">LNCaP</text>
<text class="t" x="461.6" y="1564.4">sfn + 5-fu</text>
<text class="t" x="120.4" y="1595">2</text>
<text class="t" x="119.9" y="1871.4">1</text>
<text class="t" x="672.8" y="2198.6">0.5</text>
<text class="t" x="1188.2" y="2199">1</text>
<text class="t" x="1019.7" y="2270">fa</text>
<text class="t" transform="translate(55.7,1886.4) rotate(-90)">CI</text>
</g>
<g id="pF">
<line class="dot" x1="1419.4" y1="1852.3" x2="2420" y2="1852.3"/>
<line class="ytk" x1="1417.4" y1="1578.6" x2="1430.4" y2="1578.6"/>
<line class="ytk" x1="1417.4" y1="1715.4" x2="1430.4" y2="1715.4"/>
<line class="ytk" x1="1417.4" y1="1852.3" x2="1430.4" y2="1852.3"/>
<line class="ytk" x1="1417.4" y1="1989.2" x2="1430.4" y2="1989.2"/>
<line class="xa" x1="1416.9" y1="2126" x2="2422.8" y2="2126"/>
<line class="ya2" x1="1420.7" y1="1579.5" x2="1420.7" y2="2128.5"/>
<line class="ya" x1="1418.2" y1="1579.5" x2="1418.2" y2="2128.5"/>
<line class="xtk" x1="1520.1" y1="2126" x2="1520.1" y2="2119"/>
<line class="xtk" x1="1620.1" y1="2126" x2="1620.1" y2="2119"/>
<line class="xtk" x1="1720.2" y1="2126" x2="1720.2" y2="2119"/>
<line class="xtk" x1="1820.3" y1="2126" x2="1820.3" y2="2119"/>
<line class="xtk" x1="1920.3" y1="2126" x2="1920.3" y2="2119"/>
<line class="xtk" x1="2020.4" y1="2126" x2="2020.4" y2="2119"/>
<line class="xtk" x1="2120.5" y1="2126" x2="2120.5" y2="2119"/>
<line class="xtk" x1="2220.6" y1="2126" x2="2220.6" y2="2119"/>
<line class="xtk" x1="2320.6" y1="2126" x2="2320.6" y2="2119"/>
<line class="xtk" x1="2420.7" y1="2126" x2="2420.7" y2="2119"/>
<path class="cv" d="M1464.7,1932.7 1469,1931.5 1473.3,1930.3 1477.6,1929.1 1481.9,1927.9 1486.2,1926.8 1490.5,1925.6 1494.9,1924.5 1499.2,1923.4 1503.5,1922.2 1507.8,1921.2 1512.2,1920.1 1516.5,1919 1520.8,1917.9 1525.2,1916.9 1529.5,1915.9 1533.8,1914.8 1538.2,1913.8 1542.5,1912.8 1546.9,1911.8 1551.2,1910.9 1555.6,1909.9 1559.9,1908.9 1564.3,1908 1568.6,1907.1 1573,1906.1 1577.3,1905.2 1581.7,1904.3 1586,1903.4 1590.4,1902.5 1594.8,1901.7 1599.1,1900.8 1603.5,1899.9 1607.9,1899.1 1612.2,1898.2 1616.6,1897.4 1621,1896.6 1625.4,1895.8 1629.7,1895 1634.1,1894.2 1638.5,1893.4 1642.9,1892.6 1647.3,1891.8 1651.6,1891.1 1656,1890.3 1660.4,1889.6 1664.8,1888.8 1669.2,1888.1 1673.6,1887.4 1678,1886.7 1682.4,1886 1686.8,1885.3 1691.2,1884.6 1695.6,1883.9 1700,1883.2 1704.4,1882.5 1708.8,1881.8 1713.2,1881.2 1717.6,1880.5 1722,1879.8 1726.4,1879.2 1730.8,1878.6 1735.2,1877.9 1739.6,1877.3 1744,1876.7 1748.4,1876 1752.8,1875.4 1757.3,1874.8 1761.7,1874.2 1766.1,1873.6 1770.5,1873 1774.9,1872.4 1779.3,1871.8 1783.8,1871.2 1788.2,1870.6 1792.6,1870 1797,1869.5 1801.4,1868.9 1805.9,1868.3 1810.3,1867.7 1814.7,1867.2 1819.1,1866.6 1823.6,1866 1828,1865.5 1832.4,1864.9 1836.8,1864.4 1841.3,1863.8 1845.7,1863.3 1850.1,1862.7 1854.6,1862.2 1859,1861.6 1863.4,1861.1 1867.9,1860.5 1872.3,1860 1876.7,1859.5 1881.2,1858.9 1885.6,1858.4 1890,1857.8 1894.5,1857.3 1898.9,1856.8 1903.3,1856.2 1907.8,1855.7 1912.2,1855.1 1916.6,1854.6 1921.1,1854.1 1925.5,1853.5 1930,1853 1934.4,1852.4 1938.8,1851.9 1943.3,1851.4 1947.7,1850.8 1952.2,1850.3 1956.6,1849.7 1961,1849.2 1965.5,1848.6 1969.9,1848.1 1974.4,1847.5 1978.8,1846.9 1983.2,1846.4 1987.7,1845.8 1992.1,1845.3 1996.5,1844.7 2001,1844.1 2005.4,1843.5 2009.9,1843 2014.3,1842.4 2018.7,1841.8 2023.2,1841.2 2027.6,1840.6 2032.1,1840 2036.5,1839.4 2040.9,1838.8 2045.4,1838.2 2049.8,1837.6 2054.3,1837 2058.7,1836.4 2063.1,1835.8 2067.6,1835.1 2072,1834.5 2076.4,1833.9 2080.9,1833.2 2085.3,1832.6 2089.7,1831.9 2094.2,1831.2 2098.6,1830.6 2103,1829.9 2107.5,1829.2 2111.9,1828.5 2116.3,1827.8 2120.7,1827 2125.2,1826.3 2129.6,1825.6 2134,1824.8 2138.4,1824.1 2142.8,1823.3 2147.2,1822.5 2151.6,1821.7 2156,1820.9 2160.4,1820 2164.8,1819.2 2169.2,1818.3 2173.6,1817.4 2177.9,1816.5 2182.3,1815.6 2186.7,1814.7 2191,1813.7 2195.4,1812.7 2199.7,1811.7 2204.1,1810.7 2208.4,1809.7 2212.7,1808.6 2217,1807.6 2221.4,1806.5 2225.7,1805.3 2230,1804.2 2234.3,1803 2238.5,1801.8 2242.8,1800.6 2247.1,1799.4 2251.3,1798.1 2255.6,1796.8 2259.8,1795.5 2264.1,1794.2 2268.3,1792.8 2272.5,1791.4 2276.7,1790 2280.9,1788.5 2285.1,1787 2289.3,1785.5 2293.5,1784 2297.6,1782.4 2301.8,1780.8 2305.9,1779.1 2310,1777.5 2314.1,1775.8 2318.3,1774 2322.3,1772.2 2326.4,1770.4 2330.5,1768.6 2334.5,1766.7 2338.5,1764.7 2342.4,1762.7 2346.3,1760.5 2350.2,1758.3 2354,1756.1 2357.7,1753.7 2361.3,1751.2 2364.8,1748.6 2368.3,1745.9 2371.6,1743.1 2374.9,1740.1 2378,1737 2381,1733.8 2383.9,1730.3 2386.7,1726.8 2389.3,1723 2391.8,1719.1 2394.1,1715 2396.2,1710.7 2398.2,1706.3"/>
<path class="ebc" d="M1508.7,1874.8h21M1508.7,1957.2h21"/>
<path class="eb" d="M1519.2,1872.8V1959.2"/>
<path class="ebc" d="M1608.9,1860.7h21M1608.9,1929.6h21"/>
<path class="eb" d="M1619.4,1858.7V1931.6"/>
<path class="ebc" d="M1708.9,1852.6h21M1708.9,1907.4h21"/>
<path class="eb" d="M1719.4,1850.6V1909.4"/>
<path class="ebc" d="M1809.7,1842.6h21M1809.7,1892.1h21"/>
<path class="eb" d="M1820.2,1840.6V1894.1"/>
<path class="ebc" d="M1909.7,1832.4h21M1909.7,1876h21"/>
<path class="eb" d="M1920.2,1830.4V1878"/>
<path class="ebc" d="M2010.2,1820.6h21M2010.2,1860.4h21"/>
<path class="eb" d="M2020.7,1818.6V1862.4"/>
<path class="ebc" d="M2107.2,1802.9h21M2107.2,1848.6h21"/>
<path class="eb" d="M2117.7,1800.9V1850.6"/>
<path class="ebc" d="M2210.8,1776.4h21M2210.8,1837.1h21"/>
<path class="eb" d="M2221.3,1774.4V1839.1"/>
<path class="ebc" d="M2311,1722h21M2311,1823.1h21"/>
<path class="eb" d="M2321.5,1720V1825.1"/>
<text class="t b" x="1257" y="1564.3">F</text>
<text class="t" x="1461.6" y="1564.3">LNCaP</text>
<text class="t" x="1688.3" y="1564.3">all + 5-fu</text>
<text class="t" x="1340.3" y="1595.9">2</text>
<text class="t" x="1341.3" y="1871">1</text>
<text class="t" x="1897.3" y="2199">0.5</text>
<text class="t" x="2413.6" y="2199">1</text>
<text class="t" x="2204.4" y="2269.7">fa</text>
<text class="t" transform="translate(1300.3,1886.2) rotate(-90)">CI</text>
</g>
<g id="pG">
<line class="dot" x1="202.8" y1="2563.5" x2="1203.8" y2="2563.5"/>
<line class="ytk" x1="200.8" y1="2294" x2="213.8" y2="2294"/>
<line class="ytk" x1="200.8" y1="2428.8" x2="213.8" y2="2428.8"/>
<line class="ytk" x1="200.8" y1="2563.5" x2="213.8" y2="2563.5"/>
<line class="ytk" x1="200.8" y1="2698.2" x2="213.8" y2="2698.2"/>
<line class="xa" x1="200.3" y1="2833" x2="1245" y2="2833"/>
<line class="ya2" x1="204.1" y1="2292" x2="204.1" y2="2835.5"/>
<line class="ya" x1="201.6" y1="2292" x2="201.6" y2="2835.5"/>
<line class="xtk" x1="305.6" y1="2833" x2="305.6" y2="2826"/>
<line class="xtk" x1="409.8" y1="2833" x2="409.8" y2="2826"/>
<line class="xtk" x1="514" y1="2833" x2="514" y2="2826"/>
<line class="xtk" x1="618.1" y1="2833" x2="618.1" y2="2826"/>
<line class="xtk" x1="722.2" y1="2833" x2="722.2" y2="2826"/>
<line class="xtk" x1="826.4" y1="2833" x2="826.4" y2="2826"/>
<line class="xtk" x1="930.5" y1="2833" x2="930.5" y2="2826"/>
<line class="xtk" x1="1034.7" y1="2833" x2="1034.7" y2="2826"/>
<line class="xtk" x1="1138.8" y1="2833" x2="1138.8" y2="2826"/>
<line class="xtk" x1="1243" y1="2833" x2="1243" y2="2826"/>
<path class="cv" d="M340.8,2295.6 342.2,2300.1 343.7,2304.7 345.2,2309.2 346.8,2313.6 348.5,2318 350.2,2322.4 351.9,2326.8 353.8,2331.1 355.6,2335.3 357.5,2339.5 359.5,2343.7 361.5,2347.8 363.6,2351.9 365.7,2356 367.9,2360 370.1,2363.9 372.4,2367.9 374.7,2371.8 377.1,2375.6 379.5,2379.4 382,2383.2 384.5,2386.9 387,2390.6 389.6,2394.3 392.3,2397.9 394.9,2401.5 397.7,2405 400.4,2408.5 403.3,2412 406.1,2415.4 409,2418.7 411.9,2422.1 414.9,2425.4 417.9,2428.7 421,2431.9 424,2435.1 427.2,2438.2 430.3,2441.3 433.5,2444.4 436.8,2447.4 440,2450.4 443.3,2453.4 446.7,2456.3 450,2459.2 453.4,2462 456.9,2464.9 460.3,2467.6 463.8,2470.4 467.3,2473.1 470.9,2475.7 474.5,2478.3 478.1,2480.9 481.7,2483.5 485.4,2486 489.1,2488.5 492.8,2490.9 496.5,2493.3 500.3,2495.7 504.1,2498 507.9,2500.3 511.7,2502.6 515.6,2504.8 519.5,2507 523.4,2509.1 527.3,2511.3 531.3,2513.3 535.2,2515.4 539.2,2517.4 543.2,2519.4 547.2,2521.3 551.3,2523.2 555.3,2525.1 559.4,2526.9 563.5,2528.7 567.6,2530.5 571.7,2532.2 575.9,2533.9 580,2535.5 584.2,2537.2 588.3,2538.8 592.5,2540.3 596.7,2541.8 600.9,2543.3 605.1,2544.8 609.4,2546.2 613.6,2547.6 617.8,2549 622.1,2550.3 626.4,2551.6 630.7,2552.9 634.9,2554.1 639.2,2555.4 643.6,2556.5 647.9,2557.7 652.2,2558.8 656.5,2559.9 660.9,2561 665.2,2562.1 669.6,2563.1 674,2564.1 678.3,2565.1 682.7,2566 687.1,2567 691.5,2567.9 695.9,2568.8 700.3,2569.6 704.7,2570.5 709.2,2571.3 713.6,2572.1 718,2572.8 722.5,2573.6 726.9,2574.3 731.4,2575.1 735.8,2575.8 740.3,2576.4 744.8,2577.1 749.2,2577.8 753.7,2578.4 758.2,2579 762.7,2579.6 767.1,2580.2 771.6,2580.7 776.1,2581.3 780.6,2581.8 785.1,2582.4 789.6,2582.9 794.1,2583.4 798.6,2583.9 803.1,2584.3 807.6,2584.8 812.1,2585.2 816.6,2585.7 821.1,2586.1 825.6,2586.5 830.1,2587 834.7,2587.4 839.2,2587.8 843.7,2588.1 848.2,2588.5 852.7,2588.9 857.2,2589.3 861.7,2589.6 866.2,2590 870.7,2590.4 875.2,2590.7 879.7,2591 884.2,2591.4 888.7,2591.7 893.2,2592.1 897.7,2592.4 902.1,2592.7 906.6,2593 911.1,2593.3 915.6,2593.6 920.1,2593.9 924.5,2594.2 929,2594.4 933.5,2594.7 938,2595 942.4,2595.2 946.9,2595.4 951.4,2595.6 955.8,2595.8 960.3,2596 964.8,2596.2 969.2,2596.4 973.7,2596.5 978.1,2596.7 982.6,2596.8 987,2596.9 991.5,2597 995.9,2597 1000.4,2597.1 1004.8,2597.1 1009.3,2597.1 1013.7,2597.1 1018.1,2597.1 1022.6,2597.1 1027,2597 1031.5,2596.9 1035.9,2596.8 1040.3,2596.7 1044.8,2596.6 1049.2,2596.4 1053.6,2596.2 1058.1,2596 1062.5,2595.8 1066.9,2595.5 1071.3,2595.2 1075.8,2594.9 1080.2,2594.5 1084.6,2594.2 1089,2593.8 1093.5,2593.4 1097.9,2592.9 1102.3,2592.4 1106.7,2591.9 1111.1,2591.4 1115.5,2590.8 1120,2590.2 1124.4,2589.6 1128.8,2588.9 1133.2,2588.2 1137.6,2587.5 1142,2586.7 1146.4,2585.9 1150.8,2585.1 1155.2,2584.2 1159.6,2583.3 1164.1,2582.4 1168.5,2581.4 1172.9,2580.4 1177.3,2579.4 1181.7,2578.3 1186.1,2577.2 1190.5,2576 1194.9,2574.8 1199.3,2573.6 1203.7,2572.3"/>
<path class="ebc" d="M399.5,2309.7h21M399.5,2518.5h21"/>
<path class="eb" d="M410,2307.7V2520.5"/>
<path class="ebc" d="M503.6,2434.8h21M503.6,2570.2h21"/>
<path class="eb" d="M514.1,2432.8V2572.2"/>
<path class="ebc" d="M608.3,2495.2h21M608.3,2597.2h21"/>
<path class="eb" d="M618.8,2493.2V2599.2"/>
<path class="ebc" d="M712.1,2528.3h21M712.1,2611h21"/>
<path class="eb" d="M722.6,2526.3V2613"/>
<path class="ebc" d="M816.4,2552.4h21M816.4,2618.9h21"/>
<path class="eb" d="M826.9,2550.4V2620.9"/>
<path class="ebc" d="M916.7,2564.4h21M916.7,2620.7h21"/>
<path class="eb" d="M927.2,2562.4V2622.7"/>
<path class="ebc" d="M1024.5,2573.4h21M1024.5,2619h21"/>
<path class="eb" d="M1035,2571.4V2621"/>
<path class="ebc" d="M1127.9,2567.4h21M1127.9,2608.5h21"/>
<path class="eb" d="M1138.4,2565.4V2610.5"/>
<text class="t b" x="37.6" y="2303.3">G</text>
<text class="t" x="239.1" y="2303.3">PC-3</text>
<text class="t" x="411.6" y="2303.3">sfn + 5+fu</text>
<text class="t" x="119.5" y="2303.3">2</text>
<text class="t" x="118.5" y="2577">1</text>
<text class="t" x="686.8" y="2910.5">0.5</text>
<text class="t" x="1231.9" y="2911">1</text>
<text class="t" x="987.2" y="3007">fa</text>
<text class="t" transform="translate(56.2,2590.6) rotate(-90)">CI</text>
</g>
<g id="pH">
<line class="dot" x1="1417.3" y1="2562.6" x2="2425.7" y2="2562.6"/>
<line class="ytk" x1="1415.3" y1="2294.4" x2="1428.3" y2="2294.4"/>
<line class="ytk" x1="1415.3" y1="2428.5" x2="1428.3" y2="2428.5"/>
<line class="ytk" x1="1415.3" y1="2562.6" x2="1428.3" y2="2562.6"/>
<line class="ytk" x1="1415.3" y1="2696.7" x2="1428.3" y2="2696.7"/>
<line class="xa" x1="1414.8" y1="2830.8" x2="2430" y2="2830.8"/>
<line class="ya2" x1="1418.6" y1="2294" x2="1418.6" y2="2833.3"/>
<line class="ya" x1="1416.1" y1="2294" x2="1416.1" y2="2833.3"/>
<line class="xtk" x1="1518.7" y1="2830.8" x2="1518.7" y2="2823.8"/>
<line class="xtk" x1="1619.7" y1="2830.8" x2="1619.7" y2="2823.8"/>
<line class="xtk" x1="1720.7" y1="2830.8" x2="1720.7" y2="2823.8"/>
<line class="xtk" x1="1821.7" y1="2830.8" x2="1821.7" y2="2823.8"/>
<line class="xtk" x1="1922.8" y1="2830.8" x2="1922.8" y2="2823.8"/>
<line class="xtk" x1="2023.8" y1="2830.8" x2="2023.8" y2="2823.8"/>
<line class="xtk" x1="2124.8" y1="2830.8" x2="2124.8" y2="2823.8"/>
<line class="xtk" x1="2225.8" y1="2830.8" x2="2225.8" y2="2823.8"/>
<line class="xtk" x1="2326.8" y1="2830.8" x2="2326.8" y2="2823.8"/>
<line class="xtk" x1="2427.8" y1="2830.8" x2="2427.8" y2="2823.8"/>
<path class="cv" d="M1462.1,2394 1464.5,2398.3 1467.1,2402.5 1469.6,2406.5 1472.3,2410.6 1475,2414.5 1477.7,2418.3 1480.6,2422 1483.4,2425.7 1486.4,2429.2 1489.4,2432.7 1492.4,2436.1 1495.5,2439.5 1498.7,2442.7 1501.9,2445.9 1505.2,2449 1508.5,2452 1511.8,2454.9 1515.2,2457.8 1518.7,2460.6 1522.2,2463.3 1525.7,2466 1529.3,2468.5 1532.9,2471.1 1536.6,2473.5 1540.3,2475.9 1544,2478.2 1547.8,2480.5 1551.6,2482.7 1555.5,2484.8 1559.3,2486.9 1563.3,2489 1567.2,2490.9 1571.2,2492.9 1575.2,2494.7 1579.2,2496.5 1583.2,2498.3 1587.3,2500 1591.4,2501.7 1595.6,2503.3 1599.7,2504.8 1603.9,2506.4 1608.1,2507.8 1612.3,2509.3 1616.6,2510.6 1620.8,2512 1625.1,2513.3 1629.4,2514.5 1633.8,2515.8 1638.1,2517 1642.5,2518.1 1646.9,2519.2 1651.3,2520.3 1655.7,2521.3 1660.1,2522.3 1664.6,2523.3 1669,2524.2 1673.5,2525.1 1678,2526 1682.5,2526.9 1687,2527.7 1691.5,2528.5 1696,2529.3 1700.5,2530 1705.1,2530.8 1709.6,2531.5 1714.2,2532.2 1718.7,2532.8 1723.3,2533.5 1727.8,2534.1 1732.4,2534.7 1737,2535.3 1741.6,2535.9 1746.1,2536.4 1750.7,2537 1755.3,2537.5 1759.9,2538.1 1764.4,2538.6 1769,2539.1 1773.6,2539.6 1778.1,2540.1 1782.7,2540.6 1787.3,2541 1791.8,2541.5 1796.4,2542 1800.9,2542.4 1805.5,2542.9 1810,2543.3 1814.6,2543.8 1819.1,2544.2 1823.7,2544.6 1828.2,2545 1832.7,2545.5 1837.3,2545.9 1841.8,2546.3 1846.3,2546.7 1850.9,2547 1855.4,2547.4 1859.9,2547.8 1864.4,2548.2 1868.9,2548.5 1873.5,2548.9 1878,2549.2 1882.5,2549.6 1887,2549.9 1891.5,2550.2 1896,2550.5 1900.5,2550.9 1905,2551.2 1909.5,2551.5 1914.1,2551.8 1918.6,2552.1 1923.1,2552.4 1927.6,2552.6 1932.1,2552.9 1936.6,2553.2 1941.1,2553.5 1945.6,2553.7 1950.1,2554 1954.6,2554.2 1959.1,2554.5 1963.5,2554.7 1968,2555 1972.5,2555.2 1977,2555.4 1981.5,2555.7 1986,2555.9 1990.5,2556.1 1995,2556.3 1999.5,2556.5 2004,2556.7 2008.5,2556.9 2013,2557.1 2017.5,2557.3 2022,2557.5 2026.5,2557.7 2031,2557.8 2035.5,2558 2040,2558.2 2044.5,2558.3 2049,2558.5 2053.5,2558.7 2058,2558.8 2062.5,2559 2067,2559.1 2071.5,2559.3 2076,2559.4 2080.5,2559.5 2085,2559.7 2089.5,2559.8 2094,2559.9 2098.6,2560.1 2103.1,2560.2 2107.6,2560.3 2112.1,2560.4 2116.6,2560.5 2121.1,2560.6 2125.7,2560.7 2130.2,2560.8 2134.7,2560.9 2139.2,2561 2143.8,2561.1 2148.3,2561.2 2152.8,2561.3 2157.4,2561.4 2161.9,2561.5 2166.5,2561.6 2171,2561.7 2175.6,2561.7 2180.1,2561.8 2184.6,2561.9 2189.2,2561.9 2193.7,2561.9 2198.3,2562 2202.8,2562 2207.4,2562 2211.9,2562 2216.5,2562 2221,2562 2225.6,2561.9 2230.1,2561.9 2234.7,2561.8 2239.2,2561.7 2243.7,2561.6 2248.3,2561.5 2252.8,2561.4 2257.3,2561.2 2261.9,2561 2266.4,2560.8 2270.9,2560.6 2275.5,2560.4 2280,2560.1 2284.5,2559.8 2289,2559.5 2293.5,2559.2 2298,2558.9 2302.5,2558.5 2307,2558.1 2311.5,2557.6 2316,2557.2 2320.5,2556.7 2325,2556.2 2329.5,2555.6 2333.9,2555 2338.4,2554.4 2342.8,2553.8 2347.3,2553.1 2351.7,2552.4 2356.2,2551.7 2360.6,2550.9 2365,2550.1 2369.5,2549.2 2373.9,2548.3 2378.3,2547.4 2382.7,2546.5 2387.1,2545.5 2391.4,2544.4 2395.8,2543.3 2400.2,2542.2 2404.5,2541.1"/>
<path class="ebc" d="M1506.7,2334.6h21M1506.7,2575.1h21"/>
<path class="eb" d="M1517.2,2332.6V2577.1"/>
<path class="ebc" d="M1608.1,2450.3h21M1608.1,2563.5h21"/>
<path class="eb" d="M1618.6,2448.3V2565.5"/>
<path class="ebc" d="M1708.9,2495.9h21M1708.9,2564.4h21"/>
<path class="eb" d="M1719.4,2493.9V2566.4"/>
<path class="ebc" d="M1809.7,2518.9h21M1809.7,2569.3h21"/>
<path class="eb" d="M1820.2,2516.9V2571.3"/>
<path class="ebc" d="M1911.3,2532.3h21M1911.3,2570.8h21"/>
<path class="eb" d="M1921.8,2530.3V2572.8"/>
<path class="ebc" d="M2013,2541.6h21M2013,2572.4h21"/>
<path class="eb" d="M2023.5,2539.6V2574.4"/>
<path class="ebc" d="M2110.3,2547.8h21M2110.3,2574.2h21"/>
<path class="eb" d="M2120.8,2545.8V2576.2"/>
<path class="ebc" d="M2215.2,2547.8h21M2215.2,2577h21"/>
<path class="eb" d="M2225.7,2545.8V2579"/>
<path class="ebc" d="M2315.6,2537.5h21M2315.6,2578.9h21"/>
<path class="eb" d="M2326.1,2535.5V2580.9"/>
<text class="t b" x="1251.8" y="2302.4">H</text>
<text class="t" x="1463.8" y="2303.8">PC-3</text>
<text class="t" x="1694" y="2303.8">all + 5+fu</text>
<text class="t" x="1338.9" y="2303.8">2</text>
<text class="t" x="1341.3" y="2579">1</text>
<text class="t" x="1900.8" y="2910.5">0.5</text>
<text class="t" x="2413.4" y="2911">1</text>
<text class="t" x="2185" y="3006.5">fa</text>
<text class="t" transform="translate(1300.3,2591.4) rotate(-90)">CI</text>
</g>
<text class="t" style="font-size:40px" x="165.8" y="2127.5">o</text>
</svg>
</body></html>
